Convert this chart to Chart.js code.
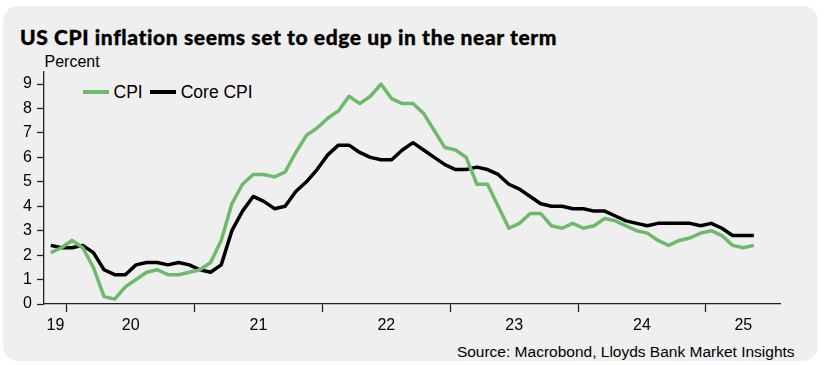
<!DOCTYPE html>
<html>
<head>
<meta charset="utf-8">
<script src="https://cdn.jsdelivr.net/npm/chart.js@4.4.1/dist/chart.umd.min.js"></script>
<style>
  html, body { margin:0; padding:0; background:#ffffff; width:833px; height:365px; overflow:hidden; }
  #card { position:absolute; left:3px; top:6px; width:815px; height:355px; background:#efefef; border-radius:15px; }
  #title { position:absolute; left:20px; top:26.4px; font-family:Lato, "Open Sans", sans-serif; font-weight:900; font-size:21px; line-height:21px; color:#000; white-space:nowrap; -webkit-text-stroke:0.35px #000; }
  #unit { position:absolute; left:44.5px; top:54px; font-family:"Liberation Sans", Arial, sans-serif; font-size:16px; line-height:16px; color:#000; }
  #legend { position:absolute; left:83px; top:83.5px; height:17.5px; display:flex; align-items:center; font-family:"Liberation Sans", Arial, sans-serif; font-size:17.5px; line-height:17.5px; color:#000; white-space:nowrap; }
  #legend .sw { display:inline-block; width:25.5px; height:4px; }
  #source { position:absolute; right:38.4px; top:343.9px; font-family:"Liberation Sans", Arial, sans-serif; font-size:15.5px; line-height:15.5px; color:#000; white-space:nowrap; }
  #chart { position:absolute; left:0; top:0; }
</style>
</head>
<body>
<div id="card"></div>
<div id="title">US CPI inflation seems set to edge up in the near term</div>
<div id="unit">Percent</div>
<div id="legend"></div>
<div id="source">Source: Macrobond, Lloyds Bank Market Insights</div>
<canvas id="chart" width="833" height="365"></canvas>
<script>
// ---- Data ----
const months = [
  '2019-11','2019-12',
  '2020-01','2020-02','2020-03','2020-04','2020-05','2020-06','2020-07','2020-08','2020-09','2020-10','2020-11','2020-12',
  '2021-01','2021-02','2021-03','2021-04','2021-05','2021-06','2021-07','2021-08','2021-09','2021-10','2021-11','2021-12',
  '2022-01','2022-02','2022-03','2022-04','2022-05','2022-06','2022-07','2022-08','2022-09','2022-10','2022-11','2022-12',
  '2023-01','2023-02','2023-03','2023-04','2023-05','2023-06','2023-07','2023-08','2023-09','2023-10','2023-11','2023-12',
  '2024-01','2024-02','2024-03','2024-04','2024-05','2024-06','2024-07','2024-08','2024-09','2024-10','2024-11','2024-12',
  '2025-01','2025-02','2025-03','2025-04','2025-05'
];
const cpi = [
  2.1, 2.3,
  2.6, 2.3, 1.5, 0.3, 0.2, 0.7, 1.0, 1.3, 1.4, 1.2, 1.2, 1.3,
  1.4, 1.7, 2.6, 4.1, 4.9, 5.3, 5.3, 5.2, 5.4, 6.2, 6.9, 7.2,
  7.6, 7.9, 8.5, 8.2, 8.5, 9.0, 8.4, 8.2, 8.2, 7.8, 7.1, 6.4,
  6.3, 6.0, 4.9, 4.9, 4.0, 3.1, 3.3, 3.7, 3.7, 3.2, 3.1, 3.3,
  3.1, 3.2, 3.5, 3.4, 3.2, 3.0, 2.9, 2.6, 2.4, 2.6, 2.7, 2.9,
  3.0, 2.8, 2.4, 2.3, 2.4
];
const coreCpi = [
  2.4, 2.3,
  2.3, 2.4, 2.1, 1.4, 1.2, 1.2, 1.6, 1.7, 1.7, 1.6, 1.7, 1.6,
  1.4, 1.3, 1.6, 3.0, 3.8, 4.4, 4.2, 3.9, 4.0, 4.6, 5.0, 5.5,
  6.1, 6.5, 6.5, 6.2, 6.0, 5.9, 5.9, 6.3, 6.6, 6.3, 6.0, 5.7,
  5.5, 5.5, 5.6, 5.5, 5.3, 4.9, 4.7, 4.4, 4.1, 4.0, 4.0, 3.9,
  3.9, 3.8, 3.8, 3.6, 3.4, 3.3, 3.2, 3.3, 3.3, 3.3, 3.3, 3.2,
  3.3, 3.1, 2.8, 2.8, 2.8
];
const seriesLabels = ['CPI', 'Core CPI'];
const xTickLabels = ['19', '20', '21', '22', '23', '24', '25'];
const xTickYears = [2019, 2020, 2021, 2022, 2023, 2024, 2025];
const yTickValues = [0, 1, 2, 3, 4, 5, 6, 7, 8, 9];

// ---- Styling ----
const GREEN = '#6dbb6a';
const BLACK = '#000000';
const AXIS = '#222222';
const X_MIN = 2019.822, X_MAX = 2025.585;
const Y_MIN = 0, Y_MAX = 9.5;

function monthToX(m) {
  const [y, mo] = m.split('-').map(Number);
  return y + (mo - 0.5) / 12;
}
const toPoints = (vals) => months.map((m, i) => ({ x: monthToX(m), y: vals[i] }));

// legend (HTML, built from dataset labels and colours)
const legendEl = document.getElementById('legend');
[[seriesLabels[0], GREEN], [seriesLabels[1], BLACK]].forEach(([lab, col], i) => {
  const sw = document.createElement('span');
  sw.className = 'sw';
  sw.style.background = col;
  sw.style.marginLeft = i === 0 ? '0px' : '7.5px';
  sw.style.marginRight = '5px';
  const tx = document.createElement('span');
  tx.textContent = lab;
  legendEl.appendChild(sw);
  legendEl.appendChild(tx);
});

// x ticks: year boundaries (tick marks) + label centres of the visible part of each year
function buildXTicks() {
  const t = [];
  xTickYears.forEach((yr, i) => {
    if (yr > X_MIN && yr < X_MAX) t.push({ value: yr, boundary: true, txt: '' });
    const a = Math.max(yr, X_MIN), b = Math.min(yr + 1, X_MAX);
    t.push({ value: (a + b) / 2, boundary: false, txt: xTickLabels[i] });
  });
  t.sort((p, q) => p.value - q.value);
  return t;
}

const tickFont = { family: '"Liberation Sans", Arial, sans-serif', size: 16 };

new Chart(document.getElementById('chart').getContext('2d'), {
  type: 'line',
  data: {
    datasets: [
      { label: seriesLabels[0], data: toPoints(cpi), borderColor: GREEN, backgroundColor: GREEN,
        borderWidth: 3.5, pointRadius: 0, tension: 0, borderJoinStyle: 'round', fill: false },
      { label: seriesLabels[1], data: toPoints(coreCpi), borderColor: BLACK, backgroundColor: BLACK,
        borderWidth: 3.5, pointRadius: 0, tension: 0, borderJoinStyle: 'round', fill: false }
    ]
  },
  options: {
    responsive: false,
    animation: false,
    devicePixelRatio: 1,
    layout: { padding: { left: 0, right: 52.3, top: 71.8, bottom: 0 } },
    plugins: { legend: { display: false }, tooltip: { enabled: false }, title: { display: false } },
    scales: {
      x: {
        type: 'linear', min: X_MIN, max: X_MAX, offset: false,
        afterBuildTicks: (s) => { s.ticks = buildXTicks(); },
        afterFit: (s) => { s.height = 61; },
        grid: { drawOnChartArea: false, drawTicks: true, tickLength: 8, tickWidth: 1.3,
                tickColor: (c) => (c.tick && c.tick.boundary) ? AXIS : 'rgba(0,0,0,0)' },
        border: { display: true, color: AXIS, width: 1.3 },
        ticks: { autoSkip: false, maxRotation: 0, minRotation: 0, padding: 4, color: '#000', font: tickFont,
                 callback: function (v, i, t) { return t[i] && t[i].txt ? t[i].txt : ''; } }
      },
      y: {
        min: Y_MIN, max: Y_MAX,
        afterBuildTicks: (s) => { s.ticks = yTickValues.map(v => ({ value: v })); },
        afterFit: (s) => { s.width = 44; },
        grid: { drawOnChartArea: false, drawTicks: true, tickLength: 7, tickWidth: 1.3, tickColor: AXIS },
        border: { display: true, color: AXIS, width: 1.3 },
        ticks: { padding: 5, color: '#000', font: tickFont, callback: (v) => String(v) }
      }
    }
  }
});

// fit title to the reference width
function fitTitle() {
  const el = document.getElementById('title');
  el.style.letterSpacing = '0px';
  const w = el.getBoundingClientRect().width;
  const n = el.textContent.length;
  const target = 537;
  el.style.letterSpacing = ((target - w) / (n - 1)) + 'px';
}
if (document.fonts && document.fonts.ready) document.fonts.ready.then(fitTitle); else fitTitle();
fitTitle();
</script>
</body>
</html>
